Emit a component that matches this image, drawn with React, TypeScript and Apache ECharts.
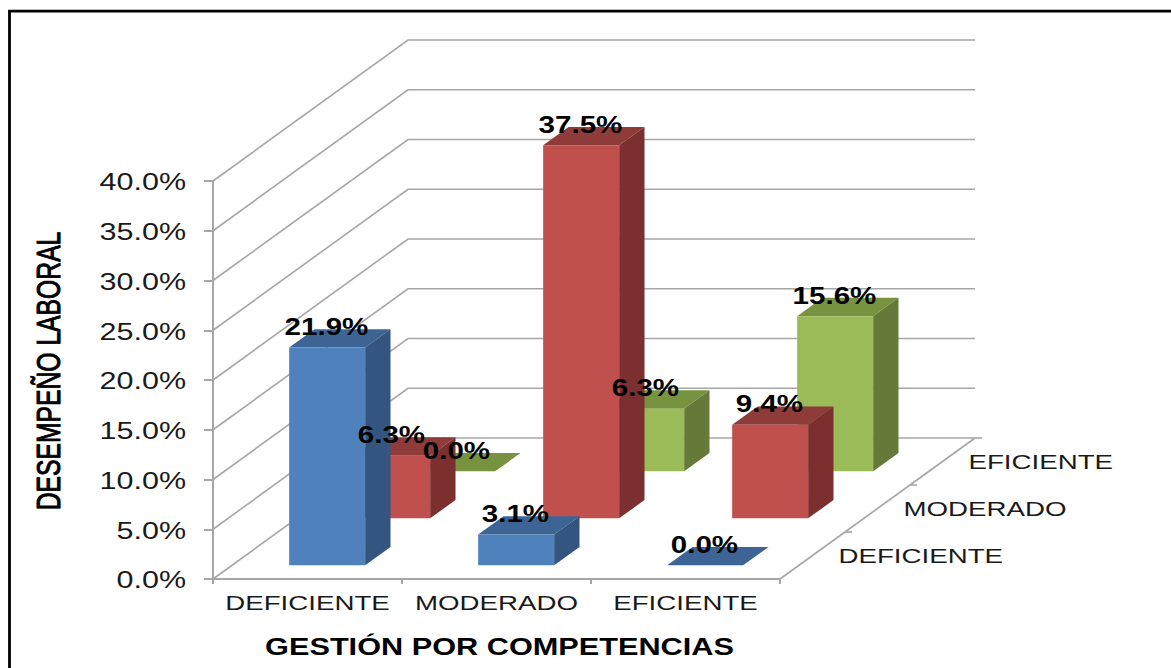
import React, { useEffect, useRef } from "react";
import * as echarts from "echarts";

// Competency management levels on the front axis, job performance levels on the depth axis.
const categories = ["DEFICIENTE", "MODERADO", "EFICIENTE"];
const depthLevels = ["DEFICIENTE", "MODERADO", "EFICIENTE"];
const valueTicks = [0, 5, 10, 15, 20, 25, 30, 35, 40];

const deficienteValues = [21.9, 3.1, 0.0];
const moderadoValues = [6.3, 37.5, 9.4];
const eficienteValues = [0.0, 6.3, 15.6];

const xTitle = "GESTIÓN POR COMPETENCIAS";
const yTitle = "DESEMPEÑO LABORAL";

const FONT = '"Liberation Sans", Arial, sans-serif';
const GRID_COLOR = "#A6A6A6";
const TEXT_COLOR = "#1a1a1a";

// Oblique projection of the floor: full depth moves a point this far.
const DEPTH_X = 195;
const DEPTH_Y = -141;
const ROWS = 3;
const BAR_WIDTH_RATIO = 76 / 189;
const BAR_INSET = 0.29; // start of a bar inside its row, in row units
const BAR_DEPTH = 0.39; // depth of a bar, in row units
const BAR_SHIFT = 0.8; // bars sit slightly off the band centre on the floor

const project = (x: number, y: number, rowPos: number) => [
  x + (DEPTH_X * rowPos) / ROWS,
  y + (DEPTH_Y * rowPos) / ROWS,
];

const palettes = [
  { front: "#4F81BD", top: "#3C6494", side: "#33557F" },
  { front: "#C0504D", top: "#8F3B39", side: "#7B2F2E" },
  { front: "#9BBB59", top: "#78933F", side: "#657A38" },
];

const poly = (points: number[][], fill: string) => ({
  type: "polygon",
  shape: { points },
  style: { fill, stroke: null },
  silent: true,
});

const wideText = (
  text: string,
  x: number,
  y: number,
  size: number,
  scaleX: number,
  align: string,
  weight = "normal",
  fill = TEXT_COLOR,
) => ({
  type: "text",
  x,
  y,
  scaleX,
  silent: true,
  style: {
    text,
    fill,
    font: `${weight} ${size}px ${FONT}`,
    align,
    verticalAlign: "middle",
  },
});

const barLeft = (centre: number, band: number) =>
  centre - (band * BAR_WIDTH_RATIO) / 2 + BAR_SHIFT;

// Bars of one depth row: front face, top and right side.
const barRenderer = (row: number) => (params: any, api: any) => {
  const cat = api.value(0);
  const val = api.value(1);
  const band = api.size([1, 0])[0];
  const base = api.coord([cat, 0]);
  const top = api.coord([cat, val]);
  const left = barLeft(base[0], band);
  const right = left + band * BAR_WIDTH_RATIO;
  const rowPos = row + BAR_INSET;
  const rowEnd = rowPos + BAR_DEPTH;
  const c = palettes[row];
  const fbl = project(left, base[1], rowPos);
  const fbr = project(right, base[1], rowPos);
  const ftl = project(left, top[1], rowPos);
  const ftr = project(right, top[1], rowPos);
  const bbr = project(right, base[1], rowEnd);
  const btl = project(left, top[1], rowEnd);
  const btr = project(right, top[1], rowEnd);
  const children: any[] = [poly([ftl, ftr, btr, btl], c.top)];
  if (val > 0) {
    children.push(poly([ftr, fbr, bbr, btr], c.side));
    children.push(poly([ftl, ftr, fbr, fbl], c.front));
  }
  return { type: "group", children };
};

// Value written just above the front edge of each bar.
const valueLabelRenderer = (params: any, api: any) => {
  const cat = api.value(0);
  const val = api.value(1);
  const row = api.value(2);
  const band = api.size([1, 0])[0];
  const base = api.coord([cat, 0]);
  const top = api.coord([cat, val]);
  const left = barLeft(base[0], band);
  const p = project(left + (band * BAR_WIDTH_RATIO) / 2, top[1], row + BAR_INSET);
  return wideText(`${val.toFixed(1)}%`, p[0] - 0.7, p[1] - 20.5, 24, 1.23, "center", "bold", "#000");
};

// Side wall and back wall lines for a value tick.
const wallRenderer = (params: any, api: any) => {
  const cs = params.coordSys;
  const y = api.coord([0, api.value(1)])[1];
  const a = [cs.x, y];
  const b = project(cs.x, y, ROWS);
  const c = project(cs.x + cs.width, y, ROWS);
  return {
    type: "polyline",
    silent: true,
    shape: { points: [a, b, c] },
    style: { fill: null, stroke: GRID_COLOR, lineWidth: 1.6 },
  };
};

// Right floor edge, with the ticks that separate the depth rows.
const floorEdgeRenderer = (params: any, api: any) => {
  const cs = params.coordSys;
  const yZero = cs.y + cs.height;
  const xRight = cs.x + cs.width;
  const row = api.value(0);
  const start = project(xRight, yZero, row);
  const end = project(xRight, yZero, row + 1);
  const tick = end[0] + 7;
  const stroke = { fill: null, stroke: GRID_COLOR, lineWidth: 1.6 };
  return {
    type: "group",
    silent: true,
    children: [
      { type: "line", shape: { x1: start[0], y1: start[1], x2: end[0], y2: end[1] }, style: stroke },
      { type: "line", shape: { x1: end[0], y1: end[1], x2: tick, y2: end[1] }, style: stroke },
    ],
  };
};

const valueTickLabelRenderer = (params: any, api: any) => {
  const v = api.value(1);
  const y = api.coord([0, v])[1];
  return wideText(`${v.toFixed(1)}%`, params.coordSys.x - 27, y + 1, 24, 1.27, "right");
};

const categoryLabelRenderer = (params: any, api: any) => {
  const i = api.value(0);
  const p = api.coord([i, 0]);
  return wideText(categories[i], p[0], p[1] + 24, 20, 1.385, "center");
};

const depthLabelRenderer = (params: any, api: any) => {
  const cs = params.coordSys;
  const i = api.value(0);
  const p = project(cs.x + cs.width, cs.y + cs.height, i + 0.5);
  return wideText(depthLevels[i], p[0] + 26, p[1], 20, 1.385, "left");
};

const rowSeries = (row: number, values: number[]) => ({
  type: "custom",
  coordinateSystem: "cartesian2d",
  renderItem: barRenderer(row),
  encode: { x: 0, y: 1 },
  data: values.map((v, i) => [i, v, row]),
  z: 3 + (ROWS - row),
});

const labelSeries = (renderItem: any, data: number[][], z = 10) => ({
  type: "custom",
  coordinateSystem: "cartesian2d",
  renderItem,
  encode: { x: 0, y: 1 },
  data,
  z,
});

export default function App() {
  const ref = useRef<HTMLDivElement>(null);

  useEffect(() => {
    document.body.style.margin = "0";
    document.body.style.background = "#fff";
    const chart = echarts.init(ref.current!, undefined, { renderer: "svg" });
    const rows = [deficienteValues, moderadoValues, eficienteValues];
    chart.setOption({
      animation: false,
      backgroundColor: "#fff",
      grid: { left: 213, top: 181, width: 567, height: 398 },
      xAxis: {
        type: "category",
        data: categories,
        axisLine: { lineStyle: { color: GRID_COLOR, width: 2 } },
        axisTick: { show: true, length: 5, lineStyle: { color: GRID_COLOR, width: 2 } },
        axisLabel: { show: false },
        splitLine: { show: false },
      },
      yAxis: {
        type: "value",
        min: 0,
        max: 40,
        interval: 5,
        axisLine: { show: true, lineStyle: { color: GRID_COLOR, width: 2 } },
        axisTick: { show: true, length: 9, lineStyle: { color: GRID_COLOR, width: 2 } },
        axisLabel: { show: false },
        splitLine: { show: false },
      },
      graphic: [
        // Frame around the figure: only its top and left edges are on the page.
        {
          type: "polyline",
          shape: { points: [[9.5, 668], [9.5, 11.2], [1171, 11.2]] },
          style: { fill: null, stroke: "#000", lineWidth: 2.8 },
          silent: true,
        },
        {
          type: "text",
          x: 499.5,
          y: 647,
          scaleX: 1.335,
          silent: true,
          style: {
            text: xTitle,
            fill: "#000",
            font: `bold 23px ${FONT}`,
            align: "center",
            verticalAlign: "middle",
          },
        },
        {
          type: "text",
          x: 49,
          y: 371,
          rotation: Math.PI / 2,
          scaleX: 0.749,
          silent: true,
          style: {
            text: yTitle,
            fill: "#000",
            stroke: "#000",
            lineWidth: 1,
            font: `normal 33px ${FONT}`,
            align: "center",
            verticalAlign: "middle",
          },
        },
      ],
      series: [
        labelSeries(wallRenderer, valueTicks.map((v) => [0, v]), 1),
        labelSeries(floorEdgeRenderer, depthLevels.map((_, i) => [i, 0]), 1),
        rowSeries(2, rows[2]),
        rowSeries(1, rows[1]),
        rowSeries(0, rows[0]),
        labelSeries(valueTickLabelRenderer, valueTicks.map((v) => [0, v])),
        labelSeries(categoryLabelRenderer, categories.map((_, i) => [i, 0])),
        labelSeries(depthLabelRenderer, depthLevels.map((_, i) => [i, 0])),
        labelSeries(
          valueLabelRenderer,
          rows.flatMap((vals, row) => vals.map((v, i) => [i, v, row])),
          12,
        ),
      ],
    });
    return () => chart.dispose();
  }, []);

  return (
    <div
      ref={ref}
      style={{ position: "absolute", left: 0, top: 0, width: 1171, height: 668 }}
    />
  );
}
